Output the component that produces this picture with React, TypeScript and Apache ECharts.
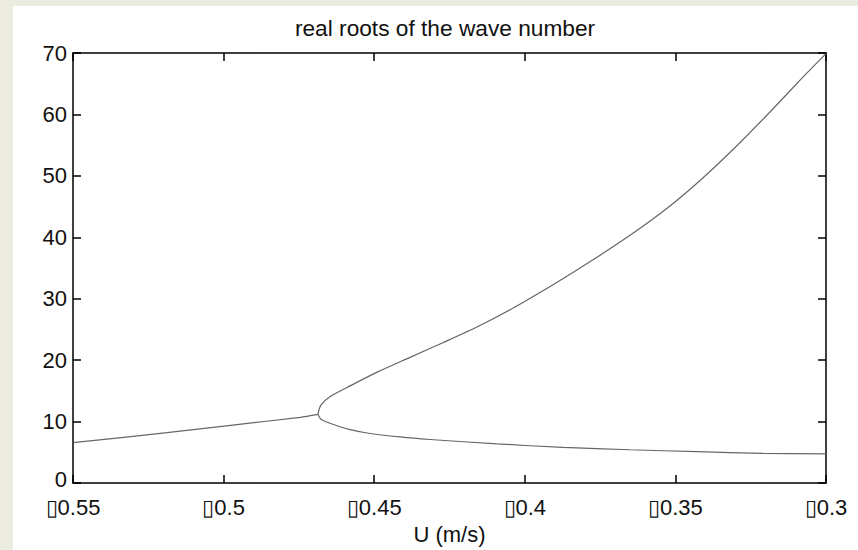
import React, { useEffect, useRef } from "react";
import * as echarts from "echarts";

const TITLE = "real roots of the wave number";
const X_NAME = "U (m/s)";
const X_MIN = -0.55;
const X_MAX = -0.3;
const X_STEP = 0.05;
const Y_MIN = 0;
const Y_MAX = 70;
const Y_STEP = 10;

// single (merged) root, before the bifurcation
const leftX = [-0.55, -0.5188, -0.4969, -0.4746, -0.4687];
const leftY = [6.6, 8.2, 9.45, 10.71, 11.19];

// upper branch after the bifurcation
const upperX = [-0.4687, -0.4677, -0.4647, -0.458, -0.449, -0.4381, -0.4272, -0.4159, -0.4049, -0.394, -0.3827, -0.374, -0.3628, -0.3518, -0.3408, -0.3296, -0.3186, -0.3076, -0.3];
const upperY = [11.19, 12.7, 14.06, 15.82, 18.06, 20.46, 22.85, 25.4, 28.2, 31.3, 34.7, 37.4, 41.1, 45.1, 49.7, 54.9, 60.4, 66.1, 69.9];

// lower branch after the bifurcation
const lowerX = [-0.4687, -0.4677, -0.4647, -0.458, -0.4524, -0.4414, -0.4315, -0.4092, -0.3873, -0.3651, -0.3428, -0.3209, -0.3];
const lowerY = [11.19, 10.4, 9.75, 8.7, 8.15, 7.51, 7.1, 6.39, 5.8, 5.43, 5.11, 4.85, 4.75];

const FONT = "'Liberation Sans', Arial, Helvetica, sans-serif";
const pairs = (xs: number[], ys: number[]) => xs.map((x, i) => [x, ys[i]]);

export default function App() {
  const ref = useRef<HTMLDivElement>(null);
  useEffect(() => {
    if (!ref.current) return;
    const chart = echarts.init(ref.current, undefined, { renderer: "svg" });
    const axisLine = { show: true, onZero: false, lineStyle: { color: "#000", width: 1.5 } };
    const axisTick = { show: true, inside: true, length: 8, lineStyle: { color: "#000", width: 1.5 } };
    const labelStyle = { fontSize: 22, color: "#111", fontFamily: FONT };
    const xFmt = (v: number) => "\u25AF" + String(Number(Math.abs(v).toFixed(2)));
    const yFmt = (v: number) => (v === 0 ? "{z|0}" : String(v));
    const lineSeries = (data: number[][]) => ({
      type: "line",
      data,
      showSymbol: false,
      symbol: "none",
      smooth: 0.25,
      lineStyle: { color: "#666", width: 1.2 },
      xAxisIndex: 0,
      yAxisIndex: 0,
    });
    chart.setOption({
      animation: false,
      backgroundColor: "transparent",
      grid: { left: 73, right: 32, top: 53, bottom: 59, containLabel: false },
      graphic: [
        {
          type: "text",
          x: 445,
          y: 28,
          style: {
            text: TITLE,
            fontSize: 22.7,
            fontFamily: FONT,
            fill: "#111",
            textAlign: "center",
            textVerticalAlign: "middle",
          },
        },
      ],
      xAxis: [
        {
          type: "value",
          position: "bottom",
          min: X_MIN,
          max: X_MAX,
          interval: X_STEP,
          axisLine,
          axisTick,
          splitLine: { show: false },
          axisLabel: { ...labelStyle, margin: 14, lineHeight: 20, formatter: xFmt },
          name: X_NAME,
          nameLocation: "middle",
          nameGap: 33,
          nameTextStyle: { ...labelStyle },
        },
        {
          type: "value",
          position: "top",
          min: X_MIN,
          max: X_MAX,
          interval: X_STEP,
          axisLine,
          axisTick,
          splitLine: { show: false },
          axisLabel: { show: false },
        },
      ],
      yAxis: [
        {
          type: "value",
          position: "left",
          min: Y_MIN,
          max: Y_MAX,
          interval: Y_STEP,
          axisLine,
          axisTick,
          splitLine: { show: false },
          axisLabel: {
            ...labelStyle,
            margin: 6,
            lineHeight: 16,
            formatter: yFmt,
            rich: { z: { ...labelStyle, lineHeight: 16, padding: [0, 0, 7, 0] } },
          },
        },
        {
          type: "value",
          position: "right",
          min: Y_MIN,
          max: Y_MAX,
          interval: Y_STEP,
          axisLine,
          axisTick,
          splitLine: { show: false },
          axisLabel: { show: false },
        },
      ],
      series: [
        lineSeries(pairs(leftX, leftY)),
        lineSeries(pairs(upperX, upperY)),
        lineSeries(pairs(lowerX, lowerY)),
      ],
    });
    return () => chart.dispose();
  }, []);

  return (
    <div style={{ position: "fixed", left: 0, top: 0, width: 858, height: 550, background: "#ecebe0" }}>
      <div style={{ position: "absolute", left: 13, top: 6, width: 845, height: 544, background: "#ffffff" }} />
      <div ref={ref} style={{ position: "absolute", left: 0, top: 0, width: 858, height: 550 }} />
    </div>
  );
}
